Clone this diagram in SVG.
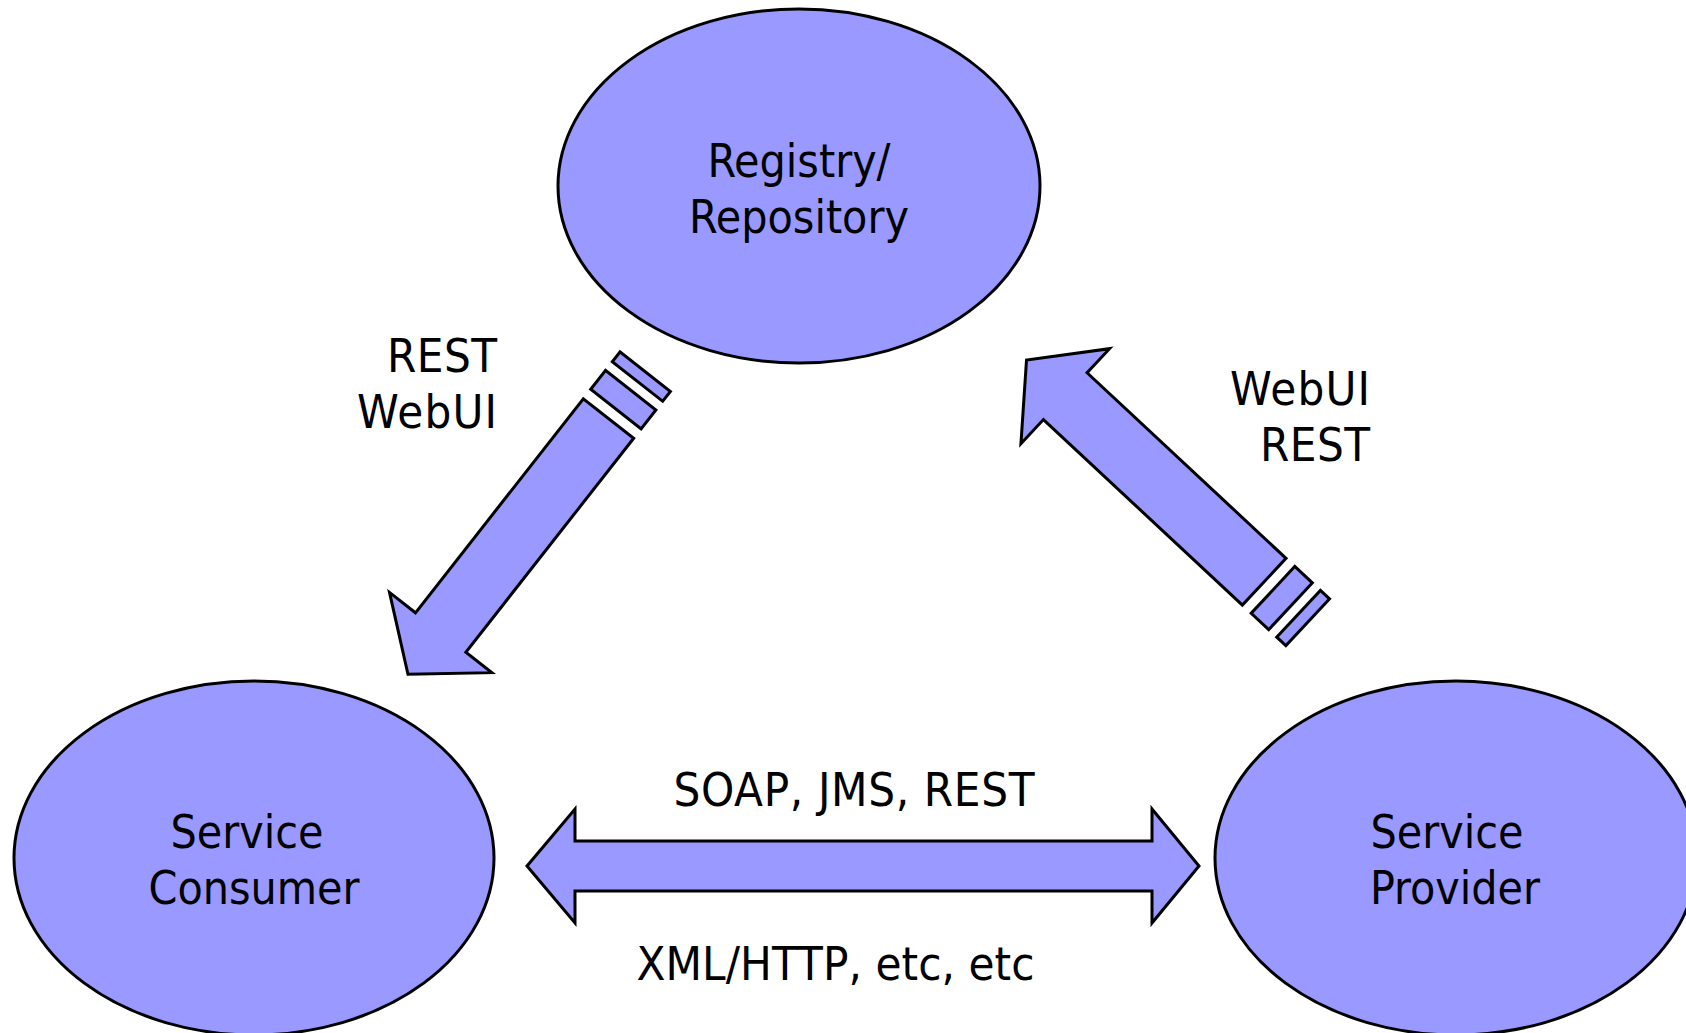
<svg xmlns="http://www.w3.org/2000/svg" xmlns:xlink="http://www.w3.org/1999/xlink" width="1686" height="1033" viewBox="0 0 1686 1033">
  <style>
    .shape { fill: #9999FF; stroke: #000000; stroke-width: 3; stroke-linejoin: miter; }
    .label { font-family: "DejaVu Sans Condensed", "Liberation Sans", sans-serif; font-size: 46px; fill: #000000; }
    .edge-label { font-size: 47px; }
    .mid { text-anchor: middle; }
    .end { text-anchor: end; }
  </style>
  <defs>
    <!-- striped block arrow pointing along +x; origin at the centre of the shaft's tail -->
    <g id="striped-arrow">
      <rect class="shape" x="-59.5" y="-32" width="12.5" height="64"/>
      <rect class="shape" x="-36" y="-32" width="24" height="64"/>
      <polygon class="shape" points="0,-32 272,-32 272,-65 325,0 272,65 272,32 0,32"/>
    </g>
  </defs>

  <rect width="1686" height="1033" fill="#FFFFFF"/>

  <g id="connectors">
    <!-- registry to consumer -->
    <use xlink:href="#striped-arrow" transform="translate(608.5,418.5) rotate(128.1)"/>
    <!-- provider to registry -->
    <use xlink:href="#striped-arrow" transform="translate(1264.2,581.7) rotate(223)"/>
    <!-- consumer and provider, both ways -->
    <polygon class="shape" points="527,866 575,809 575,841 1152,841 1152,809 1199,866 1152,923 1152,891 575,891 575,923"/>
    <text class="label edge-label end" x="497" y="372" textLength="110" lengthAdjust="spacing">REST</text>
    <text class="label edge-label end" x="497" y="428" textLength="140" lengthAdjust="spacing">WebUI</text>
    <text class="label edge-label end" x="1370" y="405" textLength="140" lengthAdjust="spacing">WebUI</text>
    <text class="label edge-label end" x="1370" y="461" textLength="110" lengthAdjust="spacing">REST</text>
    <text class="label edge-label mid" x="854" y="806" textLength="361" lengthAdjust="spacing">SOAP, JMS, REST</text>
    <text class="label edge-label mid" x="835.5" y="980" textLength="398" lengthAdjust="spacing">XML/HTTP, etc, etc</text>
  </g>

  <g id="registry">
    <ellipse class="shape" cx="799" cy="186" rx="241" ry="177"/>
    <text class="label mid" x="799" y="177">Registry/</text>
    <text class="label mid" x="799" y="233">Repository</text>
  </g>

  <g id="consumer">
    <ellipse class="shape" cx="254" cy="858" rx="240" ry="177"/>
    <text class="label mid" x="247" y="848">Service</text>
    <text class="label mid" x="254" y="904">Consumer</text>
  </g>

  <g id="provider">
    <ellipse class="shape" cx="1456" cy="858" rx="241" ry="177"/>
    <text class="label mid" x="1447" y="848">Service</text>
    <text class="label mid" x="1455" y="904">Provider</text>
  </g>
</svg>
